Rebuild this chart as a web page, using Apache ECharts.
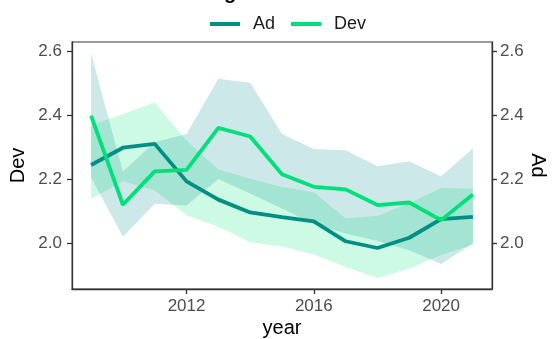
<!DOCTYPE html>
<html>
<head>
<meta charset="utf-8">
<script src="https://cdn.jsdelivr.net/npm/echarts@6/dist/echarts.min.js"></script>
<style>
html,body{margin:0;padding:0;background:#fff;}
#chart{width:552px;height:339px;}
</style>
</head>
<body>
<div id="chart"></div>
<script>
const years = [2009,2010,2011,2012,2013,2014,2015,2016,2017,2018,2019,2020,2021];
const devLine = [2.398,2.120,2.224,2.229,2.360,2.333,2.215,2.176,2.168,2.119,2.127,2.072,2.152];
const adLine  = [2.244,2.298,2.310,2.193,2.136,2.096,2.081,2.068,2.006,1.985,2.017,2.075,2.082];
const devLow  = [2.205,2.020,2.123,2.118,2.200,2.155,2.108,2.060,2.030,2.007,1.978,1.935,2.000];
const devHigh = [2.592,2.224,2.315,2.341,2.513,2.501,2.341,2.294,2.290,2.240,2.256,2.208,2.296];
const adLow   = [2.139,2.193,2.165,2.087,2.051,2.003,1.990,1.965,1.926,1.891,1.921,1.963,1.995];
const adHigh  = [2.367,2.403,2.439,2.320,2.230,2.201,2.175,2.159,2.077,2.085,2.125,2.172,2.170];
const xTicks = [2012,2016,2020];
const yTicks = [2.0,2.2,2.4,2.6];

const AD_COLOR = '#008F82';
const DEV_COLOR = '#00E07A';
const FONT = 'Liberation Sans, Arial, sans-serif';

function ribbon(name, lo, hi, fill, yAxisIndex, z) {
  return {
    type: 'custom',
    name: name,
    yAxisIndex: yAxisIndex,
    silent: true,
    clip: true,
    z: z,
    data: years.map((y, i) => [y, lo[i], hi[i]]),
    encode: { x: 0, y: [1, 2] },
    renderItem: function (params, api) {
      if (params.dataIndex !== 0) return null;
      const pts = [];
      for (let i = 0; i < years.length; i++) pts.push(api.coord([years[i], hi[i]]));
      for (let i = years.length - 1; i >= 0; i--) pts.push(api.coord([years[i], lo[i]]));
      return { type: 'polygon', shape: { points: pts }, style: { fill: fill, stroke: null } };
    }
  };
}

function yAxisDef(pos, name, rotate, gap, margin) {
  return {
    type: 'value', position: pos, min: 1.857, max: 2.628,
    name: name, nameLocation: 'middle', nameGap: gap, nameRotate: rotate, nameMoveOverlap: false,
    nameTextStyle: { color: '#000', fontSize: 20, fontFamily: FONT },
    axisLine: { show: true, lineStyle: { color: '#333', width: 1.3 } },
    axisTick: { show: true, length: 5, customValues: yTicks, lineStyle: { color: '#333', width: 1.3 } },
    axisLabel: { show: true, customValues: yTicks, margin: margin, color: '#4d4d4d', fontSize: 17, fontFamily: FONT,
      formatter: v => v.toFixed(1) },
    splitLine: { show: false }
  };
}

const chart = echarts.init(document.getElementById('chart'), null, { renderer: 'canvas' });
chart.setOption({
  animation: false,
  backgroundColor: '#fff',
  grid: { left: 72, right: 60, top: 42, bottom: 50, show: true, borderColor: '#7a7a7a', borderWidth: 1.3,
    backgroundColor: 'transparent', outerBoundsMode: 'none', containLabel: false },
  legend: {
    data: ['Ad', 'Dev'], left: 205, top: 10, itemWidth: 30, itemHeight: 4, itemGap: 16,
    icon: 'rect',
    textStyle: { color: '#1a1a1a', fontSize: 18, fontFamily: FONT, padding: [0, 0, 0, 8] }
  },
  graphic: [{
    type: 'text', left: 224, top: -17,
    style: { text: 'g', font: 'bold 20px Liberation Sans, Arial, sans-serif', fill: '#000' }
  }],
  xAxis: {
    type: 'value', min: 2008.4, max: 2021.6,
    name: 'year', nameLocation: 'middle', nameGap: 29, nameMoveOverlap: false,
    nameTextStyle: { color: '#000', fontSize: 20, fontFamily: FONT },
    axisLine: { show: true, lineStyle: { color: '#333', width: 1.3 } },
    axisTick: { show: true, length: 5, customValues: xTicks, lineStyle: { color: '#333', width: 1.3 } },
    axisLabel: { show: true, customValues: xTicks, margin: 9, color: '#4d4d4d', fontSize: 17, fontFamily: FONT,
      formatter: v => String(v) },
    splitLine: { show: false }
  },
  yAxis: [
    yAxisDef('left', 'Dev', 90, 44, 10),
    yAxisDef('right', 'Ad', -90, 36, 8)
  ],
  series: [
    ribbon('AdRibbon', adLow, adHigh, 'rgba(0,230,118,0.2)', 1, 1),
    ribbon('DevRibbon', devLow, devHigh, 'rgba(0,139,139,0.2)', 0, 2),
    {
      type: 'line', name: 'Ad', yAxisIndex: 1, z: 3,
      data: years.map((y, i) => [y, adLine[i]]),
      symbol: 'none', lineStyle: { color: AD_COLOR, width: 3.8 }, itemStyle: { color: AD_COLOR }
    },
    {
      type: 'line', name: 'Dev', yAxisIndex: 0, z: 4,
      data: years.map((y, i) => [y, devLine[i]]),
      symbol: 'none', lineStyle: { color: DEV_COLOR, width: 3.8 }, itemStyle: { color: DEV_COLOR }
    }
  ]
});
</script>
</body>
</html>
